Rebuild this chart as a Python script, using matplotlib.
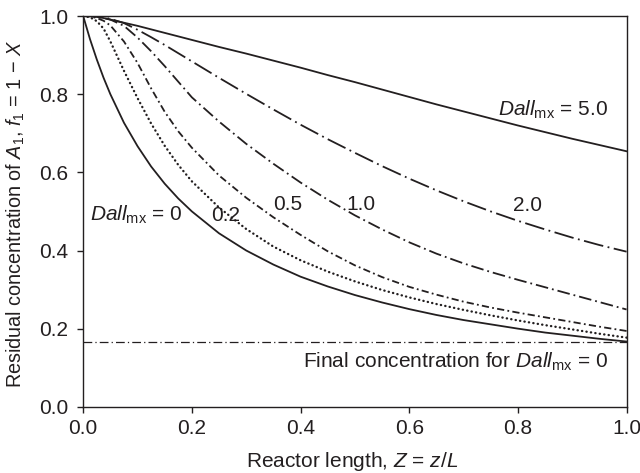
import matplotlib
matplotlib.use("Agg")
import matplotlib.pyplot as plt

plt.rcParams['font.family'] = ['Liberation Sans', 'DejaVu Sans']
plt.rcParams['mathtext.fontset'] = 'custom'
plt.rcParams['mathtext.rm'] = 'Liberation Sans'
plt.rcParams['mathtext.it'] = 'Liberation Sans:italic'

# Data
Z = [0, 0.0125, 0.025, 0.0375, 0.05, 0.075, 0.1, 0.125, 0.15, 0.175, 0.2, 0.25, 0.3, 0.35,
     0.4, 0.45, 0.5, 0.55, 0.6, 0.65, 0.7, 0.75, 0.8, 0.85, 0.9, 0.95, 1.0]
f_dall_0 = [1.0, 0.941, 0.889, 0.842, 0.8, 0.727, 0.667, 0.615, 0.571, 0.533, 0.5, 0.444, 0.4, 0.364,
            0.333, 0.308, 0.286, 0.267, 0.25, 0.235, 0.222, 0.211, 0.2, 0.19, 0.182, 0.174, 0.167]
f_dall_02 = [1.0, 0.997, 0.987, 0.968, 0.935, 0.86, 0.79, 0.725, 0.668, 0.619, 0.577, 0.51, 0.455, 0.41,
             0.375, 0.346, 0.321, 0.299, 0.28, 0.263, 0.248, 0.234, 0.221, 0.209, 0.198, 0.187, 0.177]
f_dall_05 = [1.0, 0.999, 0.995, 0.988, 0.976, 0.935, 0.88, 0.815, 0.755, 0.705, 0.663, 0.592, 0.535, 0.485,
             0.44, 0.398, 0.362, 0.332, 0.307, 0.287, 0.269, 0.254, 0.241, 0.229, 0.217, 0.205, 0.194]
f_dall_1 = [1.0, 1.0, 0.998, 0.995, 0.991, 0.975, 0.945, 0.91, 0.872, 0.832, 0.792, 0.73, 0.673, 0.622,
            0.574, 0.53, 0.49, 0.454, 0.421, 0.392, 0.367, 0.345, 0.325, 0.306, 0.287, 0.268, 0.249]
f_dall_2 = [1.0, 1.0, 0.999, 0.997, 0.993, 0.982, 0.965, 0.946, 0.926, 0.905, 0.884, 0.842, 0.801, 0.761,
            0.722, 0.685, 0.65, 0.616, 0.584, 0.554, 0.526, 0.5, 0.476, 0.454, 0.433, 0.414, 0.397]
f_dall_5 = [1.0, 1.0, 0.998, 0.995, 0.991, 0.983, 0.975, 0.966, 0.957, 0.948, 0.939, 0.921, 0.904, 0.886,
            0.868, 0.849, 0.831, 0.812, 0.793, 0.774, 0.756, 0.738, 0.72, 0.703, 0.686, 0.67, 0.654]
final_conc = 0.165

ticks = [0.0, 0.2, 0.4, 0.6, 0.8, 1.0]
tick_labels = ["0.0", "0.2", "0.4", "0.6", "0.8", "1.0"]

ink = '#231f20'
fig = plt.figure(figsize=(6.4, 4.73), dpi=100)
ax = fig.add_axes([0.130, 0.140, 0.849, 0.826])

lw = 1.3
ax.plot(Z, f_dall_0, color=ink, lw=lw, linestyle='-')
ax.plot(Z, f_dall_02, color=ink, lw=1.7, linestyle=(0, (0.1, 1.8)), dash_capstyle='round')
ax.plot(Z, f_dall_05, color=ink, lw=lw, linestyle=(0, (4, 1.8, 1, 1.8)))
ax.plot(Z, f_dall_1, color=ink, lw=lw, linestyle=(0, (7, 2.2, 1, 2.2)))
ax.plot(Z, f_dall_2, color=ink, lw=lw, linestyle=(0, (11, 2.5, 1, 2.5)))
ax.plot(Z, f_dall_5, color=ink, lw=lw, linestyle='-')
ax.axhline(final_conc, color=ink, lw=0.9, linestyle=(0, (7, 2.5, 1, 2.5)))

fs = 15
lab = r'$\mathit{Dall}_{\mathrm{mx}}$'
ax.text(0.012, 0.49, lab + ' = 0', fontsize=fs, ha='left', va='center', color=ink)
ax.text(0.263, 0.49, '0.2', fontsize=fs, ha='center', va='center', color=ink)
ax.text(0.376, 0.519, '0.5', fontsize=fs, ha='center', va='center', color=ink)
ax.text(0.511, 0.519, '1.0', fontsize=fs, ha='center', va='center', color=ink)
ax.text(0.818, 0.515, '2.0', fontsize=fs, ha='center', va='center', color=ink)
ax.text(0.966, 0.76, lab + ' = 5.0', fontsize=fs, ha='right', va='center', color=ink)
ax.text(0.966, 0.116, 'Final concentration for ' + lab + ' = 0', fontsize=fs,
        ha='right', va='center', color=ink)

ax.set_xlim(0, 1)
ax.set_ylim(0, 1)
ax.set_xticks(ticks)
ax.set_xticklabels(tick_labels)
ax.set_yticks(ticks)
ax.set_yticklabels(tick_labels)
ax.tick_params(direction='out', length=4.5, width=1, labelsize=fs, colors=ink)
ax.tick_params(axis='x', pad=4)
ax.tick_params(axis='y', pad=6)
for s in ax.spines.values():
    s.set_color(ink)
    s.set_linewidth(1.0)

fig.text(352 / 640, 1 - 461 / 473, r'Reactor length, $\mathit{Z}$ = $\mathit{z/L}$',
         fontsize=fs, color=ink, ha='center', va='center')
fig.text(16 / 640, 1 - 213.5 / 473,
         r'Residual concentration of $\mathit{A}_1$, $\mathit{f}_1$ = 1 − $\mathit{X}$',
         fontsize=14.3, color=ink, ha='center', va='center', rotation=90)

fig.savefig('out.png', dpi=100)
